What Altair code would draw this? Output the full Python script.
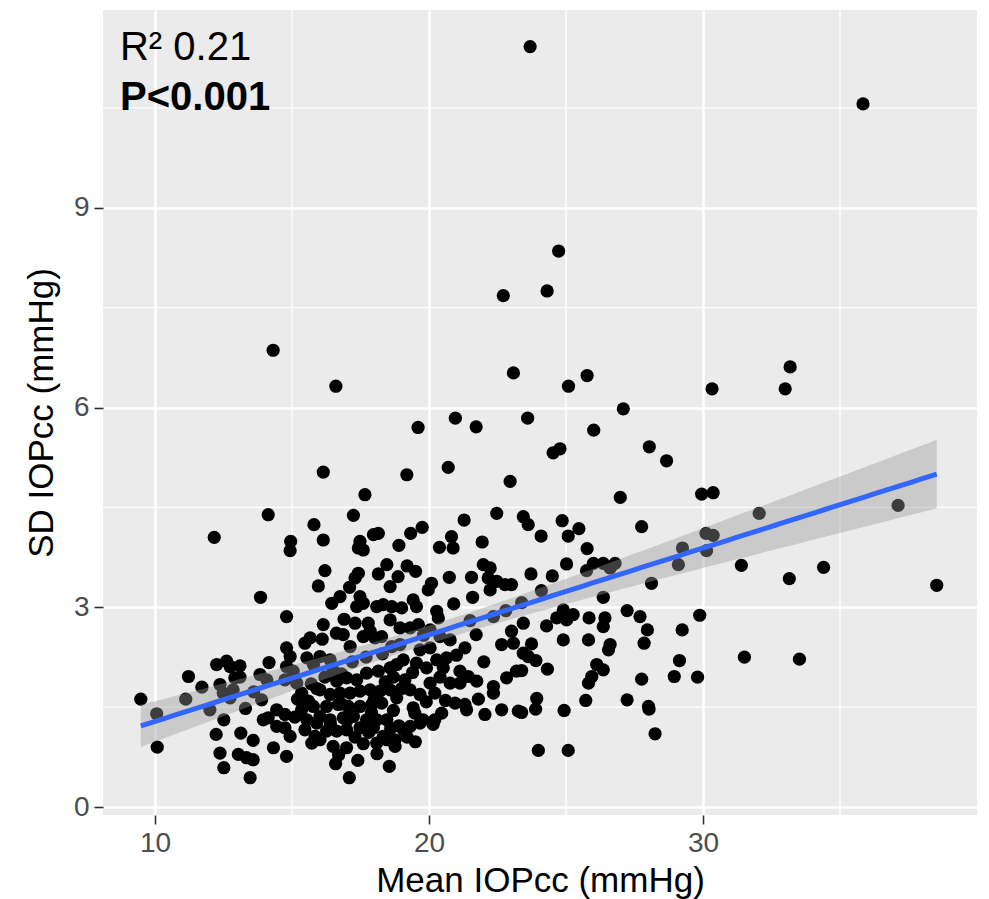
import altair as alt
import numpy as np
import pandas as pd

# Mean IOPcc (mmHg) and SD IOPcc (mmHg)
mean_iop = [
    # sparse / outer points
    23.69, 35.84, 24.73, 24.31, 22.71, 14.31, 16.60, 23.08, 25.09, 25.77,
    30.33, 33.18, 33.00, 27.09, 19.60, 20.96, 21.72, 23.60, 26.01, 28.04,
    28.67, 24.53, 24.78, 16.14, 19.19, 20.70, 22.96, 17.66, 26.98, 29.95,
    30.37, 32.05, 37.12, 30.11, 30.37, 30.13, 31.40, 33.15, 34.40, 38.53,
    29.88, 31.51, 33.52, 29.80, 27.76, 29.25, 29.10, 28.12, 27.70, 27.97,
    27.85, 29.24, 29.14, 27.76, 28.95, 28.01, 28.03, 28.25,
    # right-middle block
    23.44, 23.62, 24.09, 24.86, 25.08, 25.47, 25.77, 25.02, 25.75, 26.00,
    26.36, 26.79, 26.61, 23.72, 24.50, 26.36, 23.38, 24.90, 24.66, 24.29,
    25.26, 25.02, 23.44, 25.84, 26.42, 26.36, 27.23, 23.74, 24.90, 25.82,
    26.61,
    # right-lower block
    23.44, 23.62, 23.38, 26.55, 24.32, 26.12, 26.36, 25.94, 25.82, 25.72,
    27.23, 23.93, 23.89, 23.38, 24.93, 23.99, 25.08,
    # centre-upper block
    17.24, 16.14, 17.48, 17.97, 18.15, 17.60, 17.42, 18.90, 19.33, 19.75,
    21.28, 22.47, 20.38, 20.82, 20.88, 21.94, 17.42, 17.30, 18.15, 18.46,
    18.87, 18.58, 19.51, 20.09, 19.97, 20.74, 21.55, 21.98, 22.23, 22.16,
    22.47, 22.23, 22.77, 23.01, 21.59, 16.45, 16.75, 17.48, 17.36, 17.60,
    18.09, 18.33, 18.64, 19.00, 19.42, 19.54, 20.28, 20.34, 16.14, 16.62,
    16.87, 17.30, 17.78, 17.85, 17.60, 18.03, 18.58, 18.94, 19.31, 19.61,
    18.27, 18.64, 20.04, 20.40, 20.77, 21.72, 21.31, 22.35, 22.65, 23.01,
    23.08,
    # left-upper block
    14.13, 12.16, 14.95, 14.93, 15.80, 15.96, 13.85, 14.80, 15.66, 15.47,
    14.80,
    # left-lower block
    9.48, 10.06, 10.08, 11.22, 11.12, 11.71, 12.25, 12.61, 12.74, 12.00,
    12.37, 12.49, 12.91, 13.10, 12.85, 12.74, 12.51, 12.23, 13.13, 13.58,
    12.37, 13.04, 13.34, 13.58, 12.51, 13.47, 13.83, 14.08, 13.89, 13.95,
    14.13, 14.16, 14.93, 14.80, 15.04, 14.74, 15.17, 15.54, 15.78, 14.44,
    14.74, 14.44, 14.74, 14.93, 14.32, 14.80, 15.72, 15.35, 15.60, 15.35,
    15.78, 15.54, 15.90, 15.47, 15.84,
    # centre-lower block
    17.12, 18.94, 19.67, 20.04, 16.39, 16.02, 19.06, 19.54, 19.91, 20.28,
    20.64, 20.52, 21.13, 21.43, 21.74, 21.13, 20.77, 22.35, 22.35, 22.83,
    23.19, 23.26, 22.65, 22.04, 20.95, 21.31, 21.37, 20.46, 20.15, 20.21,
    19.78, 19.42, 19.48, 19.67, 19.31, 18.82, 19.12, 20.04, 20.21,
    16.63, 16.99, 17.36, 17.72, 18.15, 18.58, 18.82, 16.02, 16.39, 16.75,
    17.12, 17.48, 17.85, 18.21, 18.58, 16.26, 16.69, 17.05, 17.48, 17.91,
    18.27, 16.02, 16.39, 16.87, 17.24, 17.72, 18.09, 18.46, 16.26, 16.63,
    16.99, 17.48, 17.97, 18.33, 18.76, 19.06, 19.31, 19.67, 16.02, 16.50,
    16.99, 18.09, 18.46, 18.76, 16.59, 17.09, 18.55,
    # overlapped points inside the dense cluster
    15.20, 15.90, 16.20, 16.50, 16.80, 17.00, 17.30, 17.60, 17.90, 18.00,
    18.40, 18.70, 18.90, 19.20, 19.50, 17.20, 17.70, 18.30, 18.70, 19.00,
    19.40, 16.10, 16.90, 17.10, 16.80, 15.70, 15.10, 16.40, 17.80, 18.60,
    19.90, 20.60, 21.80, 21.00, 22.00, 20.40, 18.10, 16.70, 17.40, 19.80,
    21.50, 20.90, 22.80, 19.20, 16.20, 24.10, 23.90, 13.30, 13.60, 13.10,
]

sd_iop = [
    # sparse / outer points
    11.42, 10.56, 8.35, 7.75, 7.68, 6.86, 6.32, 6.52, 6.32, 6.48,
    6.28, 6.61, 6.28, 5.98, 5.70, 5.84, 5.71, 5.84, 5.66, 5.41,
    5.20, 5.32, 5.38, 5.03, 4.99, 5.10, 4.89, 4.69, 4.65, 4.70,
    4.72, 4.41, 4.53, 4.11, 4.08, 3.85, 3.63, 3.43, 3.60, 3.33,
    2.88, 2.25, 2.22, 1.95, 4.21, 3.89, 3.64, 3.36, 2.86, 2.66,
    2.46, 2.66, 2.20, 1.92, 1.96, 1.51, 1.47, 1.10,
    # right-middle block
    4.36, 4.24, 4.07, 4.30, 4.07, 4.18, 3.88, 3.65, 3.55, 3.66,
    3.66, 3.66, 3.59, 3.50, 3.47, 3.15, 3.07, 2.96, 2.84, 2.72,
    2.89, 2.81, 2.76, 2.84, 2.84, 2.71, 2.95, 2.45, 2.51, 2.51,
    2.44,
    # right-lower block
    2.31, 2.26, 2.05, 2.36, 2.07, 2.14, 2.06, 1.96, 1.86, 1.60,
    1.61, 1.63, 1.47, 1.42, 1.45, 0.85, 0.85,
    # centre-upper block
    4.38, 4.01, 3.99, 4.09, 4.11, 3.86, 3.89, 3.93, 4.11, 4.20,
    4.31, 4.41, 3.90, 4.06, 3.89, 3.98, 3.51, 3.44, 3.50, 3.64,
    3.46, 3.31, 3.54, 3.36, 3.26, 3.45, 3.45, 3.64, 3.59, 3.44,
    3.39, 3.26, 3.34, 3.34, 3.15, 3.06, 3.16, 3.16, 3.01, 3.06,
    3.01, 3.04, 3.01, 2.99, 3.11, 3.01, 2.94, 2.84, 2.74, 2.61,
    2.59, 2.76, 2.76, 2.64, 2.56, 2.54, 2.81, 2.69, 2.69, 2.74,
    2.56, 2.41, 2.66, 2.56, 2.51, 2.59, 2.39, 2.86, 2.44, 2.64,
    2.46,
    # left-upper block
    4.39, 4.05, 3.99, 3.85, 4.24, 3.32, 3.15, 2.86, 2.54, 2.46,
    2.39,
    # left-lower block
    1.62, 1.40, 0.90, 1.96, 1.62, 1.80, 2.14, 2.19, 2.11, 1.46,
    1.84, 1.71, 1.94, 1.95, 1.76, 1.64, 1.31, 1.09, 1.11, 1.00,
    0.81, 0.79, 0.74, 0.71, 0.59, 0.44, 1.99, 1.91, 1.61, 1.31,
    1.34, 2.17, 2.26, 2.11, 2.04, 1.91, 1.86, 2.24, 2.14, 1.46,
    1.39, 1.21, 1.19, 1.06, 0.89, 0.76, 0.96, 1.71, 1.59, 1.46,
    1.51, 1.31, 1.26, 1.16, 1.06,
    # centre-lower block
    2.41, 2.44, 2.36, 2.39, 2.21, 2.26, 2.21, 2.16, 2.09, 2.21,
    2.24, 2.09, 2.04, 1.96, 1.89, 1.86, 1.86, 1.81, 1.71, 1.94,
    2.04, 1.44, 1.46, 1.39, 1.56, 1.54, 1.46, 1.41, 1.24, 1.31,
    1.31, 1.49, 1.41, 1.69, 1.76, 1.64, 1.91, 1.86, 1.71,
    1.89, 1.94, 1.91, 2.01, 2.04, 2.09, 2.14, 1.76, 1.69, 1.71,
    1.71, 1.74, 1.76, 1.74, 1.76, 1.51, 1.54, 1.51, 1.51, 1.54,
    1.56, 1.36, 1.31, 1.34, 1.36, 1.31, 1.31, 1.31, 1.14, 1.14,
    1.16, 1.19, 1.19, 1.06, 1.01, 1.16, 1.21, 1.26, 1.01, 0.91,
    0.89, 0.96, 1.01, 0.91, 0.65, 0.44, 0.61,
    # overlapped points inside the dense cluster
    1.62, 1.78, 1.95, 2.05, 1.55, 1.30, 1.05, 0.95, 1.42, 1.62,
    1.88, 1.45, 1.22, 1.05, 0.98, 2.18, 2.25, 2.30, 1.95, 1.78,
    2.02, 2.52, 2.82, 3.30, 2.00, 1.85, 1.35, 1.25, 1.12, 1.18,
    1.58, 1.60, 1.62, 2.28, 2.18, 1.95, 0.80, 0.78, 0.70, 2.58,
    2.80, 3.05, 2.95, 3.62, 3.55, 3.25, 2.20, 1.48, 1.73, 2.12,
]

annot_labels = ["R\u00b2 0.21", "P<0.001"]
minor_x = [15, 25, 35]
minor_y = [1.5, 4.5, 7.5, 10.5]
major_x = [10, 20, 30]
major_y = [0, 3, 6, 9]

FONT = "Liberation Sans"

df = pd.DataFrame({"mean": mean_iop, "sd": sd_iop})

# linear fit with 95% confidence band (like geom_smooth(method="lm"))
x = np.array(mean_iop)
y = np.array(sd_iop)
n = len(x)
slope, intercept = np.polyfit(x, y, 1)
xs = np.linspace(x.min(), x.max(), 100)
fit = intercept + slope * xs
resid = y - (intercept + slope * x)
s = np.sqrt((resid ** 2).sum() / (n - 2))
sxx = ((x - x.mean()) ** 2).sum()
se = s * np.sqrt(1.0 / n + (xs - x.mean()) ** 2 / sxx)
tq = 1.967
band = pd.DataFrame({"mean": xs, "fit": fit, "lo": fit - tq * se, "hi": fit + tq * se})

xscale = alt.Scale(domain=[8.1, 40.0], nice=False, zero=False)
yscale = alt.Scale(domain=[-0.12, 11.97], nice=False, zero=False)
xaxis = alt.Axis(values=major_x, title="Mean IOPcc (mmHg)", titlePadding=6)
yaxis = alt.Axis(values=major_y, title="SD IOPcc (mmHg)", titlePadding=14)


def X(field):
    return alt.X(field, scale=xscale, axis=xaxis)


def Y(field):
    return alt.Y(field, scale=yscale, axis=yaxis)


minor_v = alt.Chart(pd.DataFrame({"mean": minor_x})).mark_rule(
    color="white", strokeWidth=1.3
).encode(x=X("mean:Q"))

minor_h = alt.Chart(pd.DataFrame({"sd": minor_y})).mark_rule(
    color="white", strokeWidth=1.3
).encode(y=Y("sd:Q"))

points = alt.Chart(df).mark_circle(size=175, color="black", opacity=1).encode(
    x=X("mean:Q"), y=Y("sd:Q")
)

ribbon = alt.Chart(band).mark_area(color="#999999", opacity=0.4).encode(
    x=X("mean:Q"), y=Y("lo:Q"), y2="hi:Q"
)

line = alt.Chart(band).mark_line(color="#3366FF", strokeWidth=5).encode(
    x=X("mean:Q"), y=Y("fit:Q")
)

ann = pd.DataFrame({"mean": [8.72, 8.72], "sd": [11.22, 10.47], "label": annot_labels})

t1 = alt.Chart(ann.iloc[[0]]).mark_text(
    align="left", baseline="alphabetic", fontSize=40, font=FONT, color="black"
).encode(x=X("mean:Q"), y=Y("sd:Q"), text="label:N")

t2 = alt.Chart(ann.iloc[[1]]).mark_text(
    align="left", baseline="alphabetic", fontSize=40, font=FONT, color="black",
    fontWeight="bold"
).encode(x=X("mean:Q"), y=Y("sd:Q"), text="label:N")

chart = alt.layer(minor_v, minor_h, points, ribbon, line, t1, t2).properties(
    width=874, height=805,
    autosize=alt.AutoSizeParams(type="none"),
    padding={"left": 103, "top": 10, "right": 12, "bottom": 84},
    background="white",
).configure_view(
    fill="#EBEBEB", stroke=None
).configure_axis(
    grid=True, gridColor="white", gridWidth=2.6, domain=False,
    tickColor="#333333", tickWidth=1.6, tickSize=9,
    labelColor="#4D4D4D", labelFontSize=28, labelFont=FONT, labelPadding=5,
    titleFont=FONT, titleFontSize=35, titleFontWeight="normal", titleColor="black",
)

chart.save("out.html", embed_options={"renderer": "svg", "actions": False})
